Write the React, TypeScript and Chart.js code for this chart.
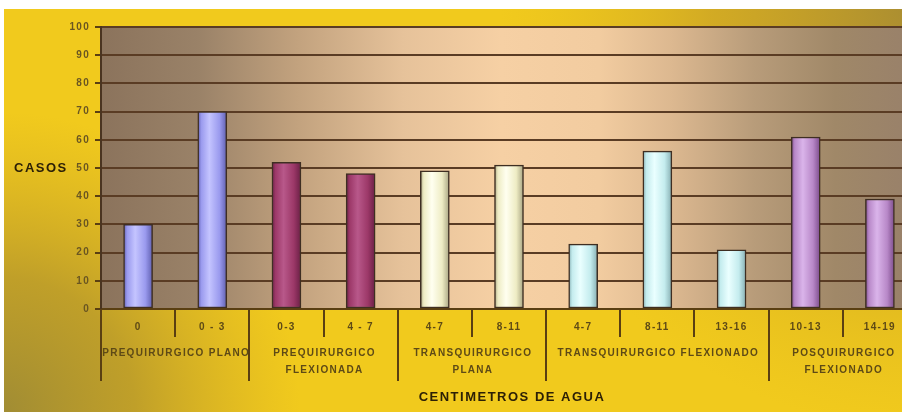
import React, { useEffect, useRef } from "react";
import { Chart, registerables } from "chart.js";

Chart.register(...registerables);

// ---- Data ----
const categories = ["0", "0 - 3", "0-3", "4 - 7", "4-7", "8-11", "4-7", "8-11", "13-16", "10-13", "14-19"];
const casos = [30, 70, 52, 48, 49, 51, 23, 56, 21, 61, 39];
const groupLabels = [
  ["PREQUIRURGICO PLANO"],
  ["PREQUIRURGICO", "FLEXIONADA"],
  ["TRANSQUIRURGICO", "PLANA"],
  ["TRANSQUIRURGICO FLEXIONADO"],
  ["POSQUIRURGICO", "FLEXIONADO"],
];
const groupSizes = [2, 2, 2, 3, 2];
const yTitle = "CASOS";
const xTitle = "CENTIMETROS DE AGUA";

// ---- Styles ----
const groupShades = [
  { dark: "#5f5fb0", light: "#c4c4ff", mid: "#9a9aee" },
  { dark: "#6a1f45", light: "#b8588a", mid: "#9c3868" },
  { dark: "#a8a482", light: "#fffff0", mid: "#eeecc4" },
  { dark: "#86aeb2", light: "#eaffff", mid: "#c4ecee" },
  { dark: "#7c4c8c", light: "#dab4ea", mid: "#b888c8" },
];
const FONT = "'Liberation Sans', Arial, sans-serif";
const LABEL_COLOR = "#5e4a16";
const YLABEL_COLOR = "#6a5622";
const TITLE_COLOR = "#2c2006";
const LINE_COLOR = "#5a3f12";
const BAR_HALF = 14.5;

function groupOf(i: number): number {
  let acc = 0;
  for (let g = 0; g < groupSizes.length; g++) {
    acc += groupSizes[g];
    if (i < acc) return g;
  }
  return groupSizes.length - 1;
}

const decorPlugin = {
  id: "decor",
  beforeDraw(chart: any) {
    const ctx = chart.ctx as CanvasRenderingContext2D;
    const W = chart.width;
    const H = chart.height;
    ctx.save();
    ctx.fillStyle = "#ffffff";
    ctx.fillRect(0, 0, W, H);
    // yellow background
    ctx.fillStyle = "#f1ca1d";
    ctx.fillRect(4, 9, W - 4, H - 9);
    let rg = ctx.createRadialGradient(0, H, 0, 0, H, 300);
    rg.addColorStop(0, "rgba(160,140,52,1)");
    rg.addColorStop(0.45, "rgba(175,145,45,0.75)");
    rg.addColorStop(1, "rgba(200,160,40,0)");
    ctx.fillStyle = rg;
    ctx.fillRect(4, 9, W - 4, H - 9);
    rg = ctx.createRadialGradient(W, 9, 0, W, 9, 420);
    rg.addColorStop(0, "rgba(168,140,50,1)");
    rg.addColorStop(0.5, "rgba(190,150,40,0.6)");
    rg.addColorStop(1, "rgba(220,180,30,0)");
    ctx.fillStyle = rg;
    ctx.fillRect(4, 9, W - 4, H - 9);

    // plot background
    const a = chart.chartArea;
    const lg = ctx.createLinearGradient(a.left, 0, a.right, 0);
    lg.addColorStop(0, "#8b735c");
    lg.addColorStop(0.12, "#9a8268");
    lg.addColorStop(0.24, "#c2a27e");
    lg.addColorStop(0.37, "#e6c29a");
    lg.addColorStop(0.49, "#f6d0a4");
    lg.addColorStop(0.61, "#f2cca0");
    lg.addColorStop(0.7, "#dcb890");
    lg.addColorStop(0.8, "#b89c7a");
    lg.addColorStop(0.9, "#a08868");
    lg.addColorStop(1, "#98806a");
    ctx.fillStyle = lg;
    ctx.fillRect(a.left, a.top, a.right - a.left, a.bottom - a.top);
    ctx.restore();
    (ctx as any).letterSpacing = "1.3px";
  },
  afterDraw(chart: any) {
    const ctx = chart.ctx as CanvasRenderingContext2D;
    const xs = chart.scales.x;
    const a = chart.chartArea;
    const n = categories.length;
    const catW = xs.getPixelForValue(1) - xs.getPixelForValue(0);
    const boundary = (i: number) => xs.getPixelForValue(i) - catW / 2;
    const groupStarts: number[] = [];
    let acc = 0;
    for (const s of groupSizes) {
      groupStarts.push(acc);
      acc += s;
    }
    ctx.save();
    ctx.strokeStyle = LINE_COLOR;
    ctx.lineWidth = 2;
    for (let i = 0; i <= n; i++) {
      const x = Math.round(boundary(i));
      const isGroup = groupStarts.includes(i) || i === n;
      ctx.beginPath();
      ctx.moveTo(x, a.bottom);
      ctx.lineTo(x, a.bottom + (isGroup ? 72 : 28));
      ctx.stroke();
    }
    // group labels
    (ctx as any).letterSpacing = "1.3px";
    ctx.font = `bold 10px ${FONT}`;
    ctx.fillStyle = LABEL_COLOR;
    ctx.textAlign = "center";
    ctx.textBaseline = "middle";
    groupLabels.forEach((lines, g) => {
      const s = groupStarts[g];
      const cx = (boundary(s) + boundary(s + groupSizes[g])) / 2 + 1;
      lines.forEach((ln, k) => {
        ctx.fillText(ln, cx, a.bottom + 44 + k * 17);
      });
    });
    // titles
    (ctx as any).letterSpacing = "1.5px";
    ctx.font = `bold 13px ${FONT}`;
    ctx.fillStyle = TITLE_COLOR;
    ctx.textAlign = "left";
    ctx.fillText(yTitle, 14, 168);
    ctx.textAlign = "center";
    ctx.fillText(xTitle, 512, 397);
    ctx.restore();
  },
};

export default function App() {
  const ref = useRef<HTMLCanvasElement | null>(null);
  useEffect(() => {
    if (!ref.current) return;
    const chart = new Chart(ref.current, {
      type: "bar",
      data: {
        labels: categories,
        datasets: [
          {
            label: yTitle,
            data: casos,
            barThickness: BAR_HALF * 2,
            borderColor: "#3e2e22",
            borderWidth: 1.5,
            borderSkipped: false,
            backgroundColor: (c: any) => {
              const g = groupShades[groupOf(c.dataIndex ?? 0)];
              const xs = c.chart.scales?.x;
              if (!xs || c.dataIndex === undefined) return g.mid;
              const cx = xs.getPixelForValue(c.dataIndex);
              if (!Number.isFinite(cx)) return g.mid;
              const grad = c.chart.ctx.createLinearGradient(cx - BAR_HALF, 0, cx + BAR_HALF, 0);
              grad.addColorStop(0, g.dark);
              grad.addColorStop(0.12, g.mid);
              grad.addColorStop(0.4, g.light);
              grad.addColorStop(0.75, g.mid);
              grad.addColorStop(1, g.dark);
              return grad;
            },
          },
        ],
      },
      options: {
        responsive: false,
        animation: false,
        layout: { padding: { left: 0, top: 27, right: 3, bottom: 0 } },
        plugins: { legend: { display: false }, tooltip: { enabled: false } },
        scales: {
          x: {
            afterFit: (s: any) => {
              s.height = 103;
            },
            grid: { display: false, drawTicks: false },
            border: { display: true, color: LINE_COLOR, width: 2 },
            ticks: {
              color: LABEL_COLOR,
              font: { size: 10, family: FONT, weight: "bold" },
              padding: 12,
              maxRotation: 0,
              autoSkip: false,
            },
          },
          y: {
            min: 0,
            max: 100,
            afterFit: (s: any) => {
              s.width = 101;
            },
            grid: { color: "#5a3c24", lineWidth: 2, tickLength: 6, tickColor: LINE_COLOR },
            border: { display: true, color: "#4a3420", width: 2 },
            ticks: {
              stepSize: 10,
              color: YLABEL_COLOR,
              font: { size: 10, family: FONT, weight: "bold" },
              padding: 5,
            },
          },
        },
      },
      plugins: [decorPlugin],
    });
    return () => chart.destroy();
  }, []);
  return (
    <div
      style={{
        position: "fixed",
        left: 0,
        top: 0,
        width: 902,
        height: 412,
        overflow: "hidden",
        background: "#fff",
      }}
    >
      <canvas ref={ref} width={920} height={412} style={{ display: "block", width: 920, height: 412 }} />
    </div>
  );
}
